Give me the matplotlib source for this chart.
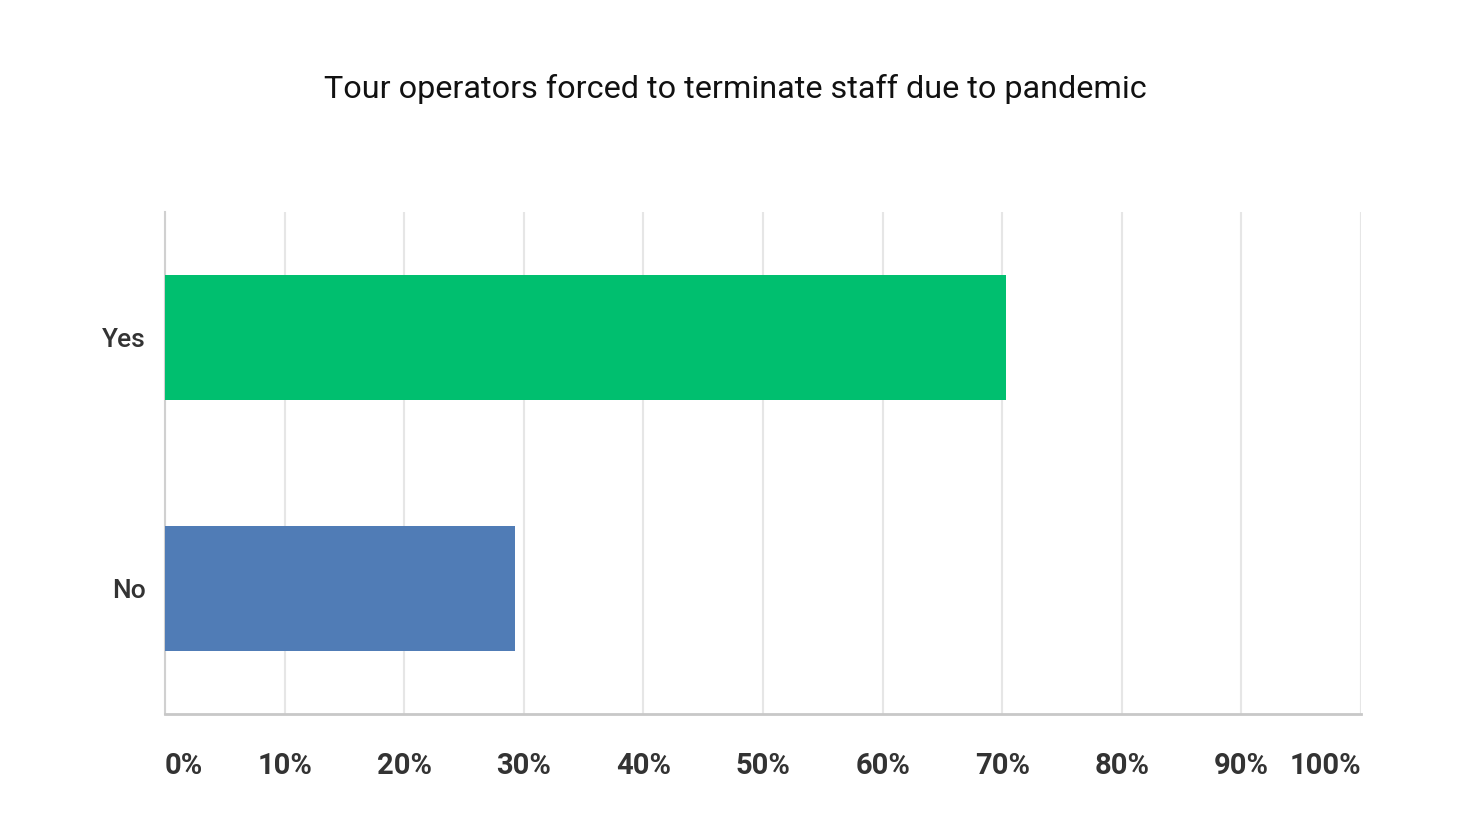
import matplotlib
matplotlib.use("Agg")
import matplotlib.pyplot as plt

categories = ["Yes", "No"]
values = [70.3, 29.3]
colors = ["#00BF6F", "#507CB6"]
tick_vals = list(range(0, 101, 10))
tick_labels = [f"{v}%" for v in tick_vals]

plt.rcParams['font.family'] = ['Roboto', 'DejaVu Sans']

fig = plt.figure(figsize=(14.7, 8.23), dpi=100)
ax = fig.add_axes([165/1470, 1-714/823, (1361-165)/1470, (714-212)/823])

ypos = [0, 1]
ax.barh(ypos, values, height=0.5, color=colors, zorder=3)
ax.set_ylim(1.5, -0.5)
ax.set_xlim(0, 100)
ax.set_yticks(ypos)
ax.set_yticklabels(categories, fontsize=19, color="#333333", fontweight="medium")
ax.set_xticks(tick_vals)
ax.set_xticklabels(tick_labels, fontsize=21, color="#333333", fontweight="bold")
labels = ax.get_xticklabels()
labels[0].set_ha("left")
labels[-1].set_ha("right")
ax.tick_params(axis="both", length=0)
ax.tick_params(axis="x", pad=27)
ax.tick_params(axis="y", pad=14)
ax.grid(axis="x", color="#E6E6E6", linewidth=1.5, zorder=0)
for s in ["top", "right"]:
    ax.spines[s].set_visible(False)
ax.spines["left"].set_color("#D0D0D0")
ax.spines["bottom"].set_color("#C8C8C8")
ax.spines["left"].set_linewidth(1.5)
ax.spines["bottom"].set_linewidth(2)

fig.text(735/1470, 1-89/823, "Tour operators forced to terminate staff due to pandemic",
         ha="center", va="center", fontsize=23.3, color="#111111")

fig.savefig("out.png", dpi=100, facecolor="white")
